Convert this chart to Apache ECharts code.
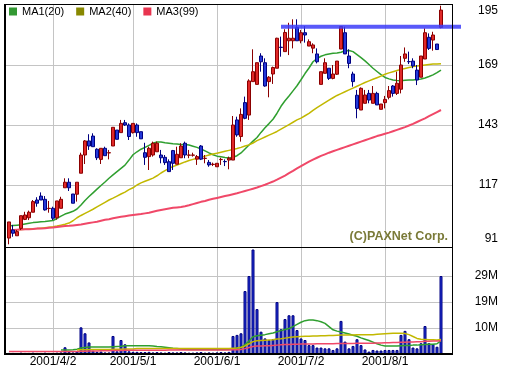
<!DOCTYPE html>
<html><head><meta charset="utf-8">
<script src="https://cdn.jsdelivr.net/npm/echarts@6/dist/echarts.min.js"></script>
<style>html,body{margin:0;padding:0;background:#fff}#c{width:505px;height:368px}</style>
</head><body><div id="c"></div>
<script>
const dates = ['2001/3/16','2001/3/19','2001/3/20','2001/3/21','2001/3/22','2001/3/23','2001/3/26','2001/3/27','2001/3/28','2001/3/29','2001/3/30',
'2001/4/2','2001/4/3','2001/4/4','2001/4/5','2001/4/6','2001/4/9','2001/4/10','2001/4/11','2001/4/12','2001/4/13','2001/4/16','2001/4/17','2001/4/18','2001/4/19','2001/4/20','2001/4/23','2001/4/24','2001/4/25','2001/4/26','2001/4/27',
'2001/5/1','2001/5/2','2001/5/3','2001/5/7','2001/5/8','2001/5/9','2001/5/10','2001/5/11','2001/5/14','2001/5/15','2001/5/16','2001/5/17','2001/5/18','2001/5/21','2001/5/22','2001/5/23','2001/5/24','2001/5/25','2001/5/29','2001/5/30','2001/5/31',
'2001/6/1','2001/6/4','2001/6/5','2001/6/6','2001/6/7','2001/6/8','2001/6/11','2001/6/12','2001/6/13','2001/6/14','2001/6/15','2001/6/18','2001/6/19','2001/6/20','2001/6/21','2001/6/22','2001/6/25','2001/6/26','2001/6/27','2001/6/28','2001/6/29',
'2001/7/2','2001/7/3','2001/7/4','2001/7/5','2001/7/6','2001/7/9','2001/7/10','2001/7/11','2001/7/12','2001/7/13','2001/7/16','2001/7/18','2001/7/19','2001/7/20','2001/7/23','2001/7/24','2001/7/25','2001/7/26','2001/7/27','2001/7/30','2001/7/31',
'2001/8/1','2001/8/2','2001/8/3','2001/8/6','2001/8/7','2001/8/8','2001/8/9','2001/8/10','2001/8/13','2001/8/14','2001/8/16','2001/8/17','2001/8/20','2001/8/21','2001/8/22'];

const open = [94.0,97.5,95.0,98.2,102.1,102.8,105.2,110.5,112.2,110.8,
106.8,106.9,102.8,106.9,115.8,118.2,113.1,113.0,122.1,130.0,
136.1,138.2,132.5,128.1,132.9,130.9,133.9,140.8,139.7,144.0,
143.0,139.7,143.0,140.1,131.0,129.3,130.0,131.4,130.0,129.0,
127.1,131.9,126.0,128.8,135.1,129.9,129.9,128.2,133.9,128.5,
126.8,125.9,124.9,128.0,127.2,127.8,127.8,145.2,138.0,152.7,
147.3,161.8,160.6,172.9,170.0,161.8,165.1,167.6,176.7,174.8,
179.5,179.5,185.3,179.5,183.0,177.2,176.3,173.8,160.6,165.4,
167.6,163.2,165.0,175.9,183.0,172.9,165.1,155.9,149.5,152.4,
156.7,152.4,156.7,149.8,152.7,155.0,159.9,156.7,158.5,171.9,
170.5,170.7,166.8,163.7,171.6,181.0,179.8,178.1,185.3];
const close = [101.0,96.1,96.8,103.7,104.0,105.2,109.8,109.1,110.5,106.2,
106.9,102.6,110.1,110.8,118.2,115.8,109.1,118.2,130.0,136.1,
133.9,133.6,128.8,132.9,129.7,131.0,142.0,136.8,143.7,143.0,
138.0,143.7,139.7,137.0,129.0,132.9,135.1,135.1,128.8,126.7,
122.8,126.4,130.3,133.9,130.0,130.0,130.0,129.3,128.2,128.6,
125.7,126.0,126.4,128.1,127.1,128.6,143.0,138.7,147.6,145.9,
162.1,166.1,170.0,170.4,159.9,163.7,167.9,180.6,176.6,183.1,
180.6,180.6,179.5,183.0,182.0,179.1,177.7,170.4,166.1,170.0,
163.2,165.1,170.7,185.7,173.8,169.7,161.8,150.2,158.9,156.0,
153.8,156.7,151.7,152.1,154.1,157.9,156.7,161.1,169.0,173.8,
170.4,168.6,162.5,172.9,183.0,176.2,182.0,175.7,192.8];
const low = [91.3,94.6,95.0,97.5,101.8,101.8,105.2,107.6,110.5,105.9,
105.0,101.8,102.0,106.9,115.8,114.4,109.1,109.8,122.1,126.1,
132.2,133.6,127.8,126.1,129.7,128.1,133.9,136.8,139.7,142.6,
136.5,139.3,137.9,137.0,125.7,123.5,129.3,131.4,126.4,125.7,
122.8,123.5,126.0,128.8,128.6,128.6,129.3,125.7,127.8,126.4,
124.9,125.2,124.9,125.7,125.2,123.8,127.8,137.9,135.8,145.5,
145.2,161.8,160.6,166.1,159.6,155.0,160.8,167.6,172.6,174.8,
173.3,176.2,179.5,178.4,178.7,177.2,174.1,169.7,160.6,165.4,
162.5,162.8,164.7,175.9,173.8,167.6,159.6,145.9,149.5,152.4,
152.4,152.4,151.7,149.8,150.2,154.1,155.3,156.0,156.7,170.4,
169.4,167.6,160.3,163.7,171.6,175.5,175.2,175.7,184.9];
const high = [101.0,99.7,97.5,103.7,105.4,105.9,110.5,111.7,113.8,112.2,
110.1,107.6,110.1,111.9,119.9,119.9,113.1,118.2,131.0,136.5,
139.0,139.4,132.9,132.9,133.6,132.2,142.0,140.8,145.2,145.2,
143.7,143.7,143.7,140.1,135.3,133.6,135.8,135.8,132.2,130.0,
128.1,132.2,133.6,135.1,135.8,132.2,131.0,130.0,134.3,130.0,
127.8,126.7,126.4,128.8,128.1,129.3,146.9,146.6,150.2,155.3,
162.8,175.8,170.0,174.1,171.9,164.2,168.3,180.8,181.3,184.5,
187.3,188.8,188.8,184.2,185.9,180.1,178.4,176.2,166.1,171.9,
167.6,169.0,170.7,185.9,185.6,175.8,166.1,158.2,159.3,158.2,
158.2,159.9,157.4,152.1,155.6,159.9,160.3,166.1,172.9,176.6,
174.8,171.9,169.0,172.9,184.9,182.7,183.4,178.1,194.7];

const ma1 = [99.2,99.4,99.6,99.8,100.1,100.4,100.7,100.9,101.1,101.2,
101.4,101.6,102.5,103.5,104.4,105.0,105.6,106.6,108.3,110.3,
112.0,113.6,115.2,116.8,118.3,119.9,121.4,122.8,124.2,125.6,
127.8,130.1,131.4,132.5,133.3,134.2,135.1,135.6,135.6,135.3,
135.1,134.9,134.8,134.6,134.5,134.3,133.8,133.3,132.6,131.8,
130.9,130.1,129.5,129.2,128.9,128.7,129.0,129.7,130.9,132.6,
134.3,136.0,137.6,139.8,141.8,143.6,145.5,148.1,151.1,153.5,
155.6,157.8,160.0,162.6,165.3,167.7,170.4,171.8,172.8,173.4,
173.8,174.1,174.2,174.5,175.2,175.3,174.8,173.5,172.2,170.8,
169.2,167.6,166.2,164.8,163.6,163.0,162.5,162.3,162.2,162.4,
162.5,162.5,162.7,162.9,163.4,164.0,164.7,165.7,166.8];
const ma2 = [97.5,97.6,97.6,97.7,97.8,97.9,98.0,98.1,98.3,98.5,
98.7,98.9,99.2,99.6,100.0,100.5,101.5,102.8,103.8,104.7,
105.6,106.5,107.5,108.5,109.5,110.5,111.3,112.2,113.1,113.9,
115.0,115.8,117.0,117.9,118.6,119.3,120.0,121.0,122.2,123.2,
124.2,125.0,125.6,126.3,127.0,127.6,128.1,128.6,129.0,129.5,
130.0,130.4,130.8,131.2,131.6,132.0,132.4,132.8,133.3,133.9,
134.4,135.2,136.2,137.0,137.8,138.6,139.4,140.2,141.2,142.2,
143.2,144.2,145.2,146.0,147.0,148.0,149.3,150.5,151.6,152.7,
153.8,154.8,155.8,156.6,157.4,158.2,159.0,159.8,160.6,161.4,
162.1,162.8,163.5,164.2,165.0,165.6,166.1,166.6,167.1,167.5,
167.9,168.3,168.6,168.8,169.0,169.2,169.4,169.4,169.5];
const ma3 = [97.5,97.5,97.6,97.7,97.8,97.8,97.9,98.1,98.2,98.3,
98.5,98.6,98.8,99.0,99.2,99.3,99.5,99.7,99.9,100.2,
100.5,100.8,101.1,101.5,101.9,102.2,102.6,102.9,103.2,103.5,
103.8,104.0,104.2,104.4,104.7,105.0,105.4,105.8,106.2,106.5,
106.8,107.1,107.3,107.5,107.8,108.2,108.7,109.2,109.7,110.1,
110.6,111.0,111.4,111.8,112.2,112.6,113.0,113.4,113.9,114.4,
114.9,115.4,115.9,116.5,117.1,117.8,118.5,119.3,120.2,121.1,
122.1,123.1,124.2,125.2,126.2,127.1,128.0,128.8,129.6,130.3,
131.0,131.6,132.2,132.8,133.4,134.0,134.6,135.2,135.8,136.4,
137.0,137.6,138.2,138.7,139.2,139.7,140.3,140.9,141.5,142.1,
142.8,143.5,144.3,145.1,145.9,146.8,147.7,148.6,149.5];

const volume = [0.4,0.4,0.3,0.5,0.4,0.4,0.5,0.4,0.4,0.5,
0.4,0.4,0.5,0.6,2.5,0.8,0.6,1.0,9.9,7.7,
4.3,1.2,0.8,0.9,0.6,0.6,6.7,1.0,5.2,3.6,
1.0,0.8,0.8,0.7,0.7,0.8,0.6,0.7,0.6,0.5,
0.7,0.6,0.6,0.7,0.6,0.5,0.5,0.6,0.7,0.5,
0.6,0.5,0.6,0.7,0.6,0.8,6.7,7.1,7.7,23.4,
29.0,38.9,16.7,8.3,5.8,5.2,5.5,19.3,9.2,13.0,
14.4,14.4,8.9,5.8,5.2,3.3,3.3,2.4,2.4,2.1,
2.1,1.5,2.1,12.3,4.6,2.1,3.0,5.5,3.3,1.7,
0.9,1.5,1.3,1.3,1.5,1.5,1.5,1.5,7.1,8.6,
5.5,2.4,2.1,4.0,10.4,4.0,3.7,2.7,29.0];
const vma1 = [null,null,null,null,null,null,null,null,null,null,
null,null,null,1.5,1.5,1.5,1.6,1.8,2.2,2.4,
2.6,2.6,2.6,2.6,2.6,2.6,2.7,2.8,2.9,3.1,
3.1,3.1,3.1,3.1,3.1,3.1,3.0,2.8,2.7,2.5,
2.3,2.1,2.0,1.9,1.8,1.7,1.7,1.7,1.7,1.7,
1.7,1.7,1.7,1.7,1.7,1.8,2.0,2.2,2.5,3.5,
4.8,6.4,6.8,7.0,7.2,7.5,7.8,8.3,8.7,9.1,
9.5,10.2,11.0,11.8,12.4,12.6,12.6,12.4,12.0,11.4,
10.2,9.0,8.5,8.2,7.8,7.4,7.0,6.6,6.0,5.5,
5.0,4.4,3.8,3.3,3.0,3.0,3.0,3.0,3.1,3.2,
3.2,3.3,3.3,3.4,3.5,3.6,3.6,3.8,5.0];
const vma2 = [null,null,null,null,null,null,null,null,null,null,
null,null,null,null,null,null,null,1.5,1.6,1.6,
1.7,1.7,1.7,1.7,1.7,1.7,1.8,1.8,1.8,1.9,
1.9,1.9,2.0,2.0,2.0,2.0,2.0,2.0,2.0,2.0,
2.0,2.0,2.0,2.0,2.0,2.0,2.0,2.0,2.0,2.0,
2.0,2.0,2.0,2.0,2.0,2.0,2.1,2.2,2.4,3.0,
3.8,4.6,4.9,5.0,5.1,5.2,5.3,5.6,5.7,5.9,
6.1,6.3,6.4,6.5,6.6,6.6,6.7,6.7,6.8,6.8,
6.9,6.9,7.0,7.1,7.1,7.1,7.1,7.2,7.2,7.2,
7.2,7.2,7.3,7.4,7.5,7.6,7.7,7.7,7.7,7.6,
7.2,6.5,5.8,5.5,5.4,5.3,5.3,5.2,5.4];
const vma3 = [0.9,0.9,0.9,0.9,0.9,0.9,0.9,0.9,0.9,0.9,
0.9,0.9,0.9,0.9,0.9,0.9,0.9,0.9,1.0,1.0,
1.1,1.1,1.1,1.2,1.2,1.2,1.3,1.3,1.3,1.4,
1.4,1.4,1.4,1.4,1.4,1.4,1.4,1.4,1.4,1.4,
1.5,1.5,1.5,1.5,1.5,1.5,1.5,1.5,1.5,1.5,
1.5,1.5,1.5,1.5,1.5,1.5,1.6,1.6,1.7,2.0,
2.4,2.8,3.0,3.0,3.1,3.1,3.2,3.3,3.4,3.5,
3.5,3.6,3.6,3.7,3.7,3.7,3.7,3.8,3.8,3.8,
3.8,3.8,3.9,3.9,3.9,3.9,3.9,4.0,4.0,4.0,
4.0,4.0,4.1,4.1,4.2,4.2,4.3,4.3,4.4,4.4,
4.5,4.5,4.6,4.6,4.7,4.7,4.8,4.8,4.9];

const priceTicks = {min: 91, max: 195, step: 26};
const volumeTicks = [29/3, 58/3, 29];
const volumeTickLabels = ['10M', '19M', '29M'];
const labelDates = ['2001/4/2', '2001/5/1', '2001/6/1', '2001/7/2', '2001/8/1'];
const resistanceFrom = '2001/6/25';
const resistanceLevel = 185.6;
const seriesNames = ['MA1(20)', 'MA2(40)', 'MA3(99)'];
const watermark = '(C)PAXNet Corp.';

const FONT = 'Liberation Sans, Arial, sans-serif';
const extraSlots = 5;
const lastIdx = dates.length - 1 + extraSlots;
const isLabelDate = (i, v) => labelDates.indexOf(v) >= 0;

const catAxis = (gi, extra) => Object.assign({
  type: 'category', gridIndex: gi, data: dates, boundaryGap: false, max: lastIdx,
  axisLine: {show: false}, axisTick: {show: false}, axisLabel: {show: false},
  splitLine: {show: false}
}, extra || {});

const chart = echarts.init(document.getElementById('c'), null, {renderer: 'canvas'});
const candleData = dates.map((d, i) => [open[i], close[i], low[i], high[i]]);
const resistanceData = [[dates.indexOf(resistanceFrom), resistanceLevel], [lastIdx, resistanceLevel]];
const lineColors = ['#2f9f2f', '#c2b800', '#f04868'];
const legendColors = ['#339933', '#888800', '#e8344f'];

chart.setOption({
  animation: false,
  backgroundColor: '#ffffff',
  title: {
    text: watermark, right: 57, top: 230, padding: 0,
    textStyle: {color: '#7a7a38', fontSize: 12.5, fontWeight: 'bold', fontFamily: FONT}
  },
  legend: {
    left: 9, top: 6, padding: 0, itemWidth: 8, itemHeight: 8, itemGap: 12, icon: 'rect',
    textStyle: {color: '#000', fontSize: 11, fontFamily: FONT},
    data: seriesNames.map((n, k) => ({name: n, itemStyle: {color: legendColors[k]}}))
  },
  grid: [
    {left: 9, top: 5, width: 452, height: 240},
    {left: 9, top: 250, width: 452, height: 104},
    {left: 5, top: 5, width: 447, height: 240},
    {left: 5, top: 250, width: 447, height: 104},
    {left: 9, top: 4, width: 452, height: 350}
  ],
  xAxis: [
    catAxis(0),
    catAxis(1),
    {type: 'value', gridIndex: 2, show: false, min: 0, max: 1},
    {type: 'value', gridIndex: 3, show: false, min: 0, max: 1},
    catAxis(4, {
      position: 'bottom',
      splitLine: {show: true, interval: isLabelDate, lineStyle: {color: '#c4c4c4', width: 1}},
      axisLabel: {show: true, interval: isLabelDate, margin: 2, color: '#000', fontSize: 12, fontFamily: FONT}
    })
  ],
  yAxis: [
    {type: 'value', gridIndex: 0, show: false, min: priceTicks.min, max: priceTicks.max, splitLine: {show: false}},
    {type: 'value', gridIndex: 1, show: false, min: 0, max: volumeTicks[0] * 4, splitLine: {show: false}},
    {type: 'value', gridIndex: 2, position: 'right', min: priceTicks.min, max: priceTicks.max, interval: priceTicks.step,
     axisLine: {show: false}, axisTick: {show: false},
     splitLine: {show: true, showMinLine: false, showMaxLine: false, lineStyle: {color: '#c4c4c4', width: 1}},
     axisLabel: {margin: 46, align: 'right', color: '#000', fontSize: 12, fontFamily: FONT,
       verticalAlignMaxLabel: 'top', verticalAlignMinLabel: 'bottom'}},
    {type: 'value', gridIndex: 3, position: 'right', min: 0, max: volumeTicks[0] * 4, interval: volumeTicks[0],
     axisLine: {show: false}, axisTick: {show: false},
     splitLine: {show: true, showMinLine: false, showMaxLine: false, lineStyle: {color: '#c4c4c4', width: 1}},
     axisLabel: {margin: 46, align: 'right', color: '#000', fontSize: 12, fontFamily: FONT,
       formatter: v => { for (let k = 0; k < volumeTicks.length; k++) { if (Math.abs(v - volumeTicks[k]) < 0.01) return volumeTickLabels[k]; } return ''; }}},
    {type: 'value', gridIndex: 4, show: false, min: 0, max: 1}
  ],
  graphic: [
    {type: 'line', z: 100, shape: {x1: 5, y1: 4.5, x2: 453, y2: 4.5}, style: {stroke: '#000', lineWidth: 1}},
    {type: 'line', z: 100, shape: {x1: 452.5, y1: 4, x2: 452.5, y2: 355}, style: {stroke: '#000', lineWidth: 1}},
    {type: 'line', z: 100, shape: {x1: 5, y1: 4, x2: 5, y2: 355}, style: {stroke: '#000', lineWidth: 2}},
    {type: 'line', z: 100, shape: {x1: 4, y1: 354, x2: 453, y2: 354}, style: {stroke: '#000', lineWidth: 2}},
    {type: 'line', z: 100, shape: {x1: 5, y1: 247.5, x2: 453, y2: 247.5}, style: {stroke: '#000', lineWidth: 1}}
  ],
  series: [
    {
      type: 'candlestick', name: 'price', xAxisIndex: 0, yAxisIndex: 0, data: candleData,
      barWidth: 3, clip: false, z: 3,
      itemStyle: {color: '#e02828', color0: '#2438d8', borderColor: '#8b0000', borderColor0: '#000080', borderWidth: 1}
    },
    {type: 'line', name: 'resistance', xAxisIndex: 0, yAxisIndex: 0, data: resistanceData, showSymbol: false,
     z: 5, clip: false, silent: true,
     lineStyle: {color: '#3c3cf8', width: 4, opacity: 0.85}},
    {type: 'line', name: seriesNames[0], xAxisIndex: 0, yAxisIndex: 0, data: ma1, showSymbol: false, z: 2,
     lineStyle: {color: lineColors[0], width: 1.5}, itemStyle: {color: lineColors[0]}},
    {type: 'line', name: seriesNames[1], xAxisIndex: 0, yAxisIndex: 0, data: ma2, showSymbol: false, z: 2,
     lineStyle: {color: lineColors[1], width: 1.5}, itemStyle: {color: lineColors[1]}},
    {type: 'line', name: seriesNames[2], xAxisIndex: 0, yAxisIndex: 0, data: ma3, showSymbol: false, z: 2,
     lineStyle: {color: lineColors[2], width: 2}, itemStyle: {color: lineColors[2]}},
    {type: 'bar', name: 'volume', xAxisIndex: 1, yAxisIndex: 1, data: volume, barWidth: 3, z: 2,
     itemStyle: {color: '#2034d8', borderColor: '#000080', borderWidth: 1}},
    {type: 'line', name: seriesNames[0], xAxisIndex: 1, yAxisIndex: 1, data: vma1, showSymbol: false, z: 3,
     lineStyle: {color: lineColors[0], width: 1.5}, itemStyle: {color: lineColors[0]}},
    {type: 'line', name: seriesNames[1], xAxisIndex: 1, yAxisIndex: 1, data: vma2, showSymbol: false, z: 3,
     lineStyle: {color: lineColors[1], width: 1.5}, itemStyle: {color: lineColors[1]}},
    {type: 'line', name: seriesNames[2], xAxisIndex: 1, yAxisIndex: 1, data: vma3, showSymbol: false, z: 3,
     lineStyle: {color: lineColors[2], width: 1.5}, itemStyle: {color: lineColors[2]}}
  ]
});
</script>
</body></html>
